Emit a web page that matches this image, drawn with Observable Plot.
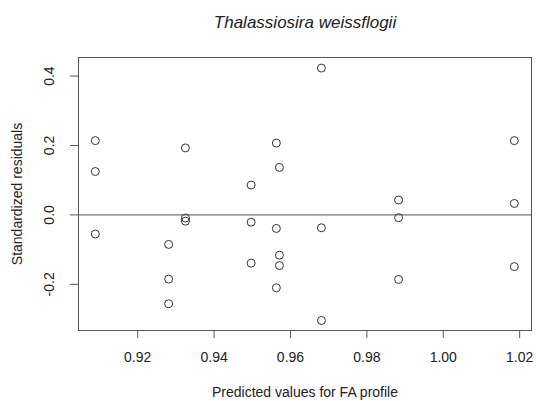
<!DOCTYPE html>
<html>
<head>
<meta charset="utf-8">
<script src="https://cdn.jsdelivr.net/npm/d3@7"></script>
<script src="https://cdn.jsdelivr.net/npm/@observablehq/plot@0.6"></script>
<style>
  html, body { margin: 0; padding: 0; background: #fff; }
</style>
</head>
<body>
<div id="chart"></div>
<script>
const title = "Thalassiosira weissflogii";
const xLabel = "Predicted values for FA profile";
const yLabel = "Standardized residuals";

const predicted = [
  0.9089, 0.9089, 0.9089,
  0.9281, 0.9281, 0.9281,
  0.9325, 0.9325, 0.9325,
  0.9497, 0.9497, 0.9497,
  0.9563, 0.9563, 0.9563,
  0.9571, 0.9571, 0.9571,
  0.9681, 0.9681, 0.9681,
  0.9883, 0.9883, 0.9883,
  1.0186, 1.0186, 1.0186
];
const residuals = [
  0.214, 0.125, -0.055,
  -0.085, -0.185, -0.256,
  0.193, -0.009, -0.018,
  0.086, -0.021, -0.139,
  0.207, -0.039, -0.210,
  0.137, -0.116, -0.146,
  0.423, -0.037, -0.304,
  0.043, -0.008, -0.186,
  0.214, 0.033, -0.149
];
const xTicks = [0.92, 0.94, 0.96, 0.98, 1.00, 1.02];
const yTicks = [-0.2, 0.0, 0.2, 0.4];

const data = predicted.map((p, i) => ({p, r: residuals[i]}));
const ink = "#555";

const chart = Plot.plot({
  width: 536,
  height: 401,
  marginLeft: 78,
  marginRight: 5,
  marginTop: 57,
  marginBottom: 71,
  style: {fontFamily: "'Liberation Sans', Arial, Helvetica, sans-serif", fontSize: "14px", color: "#222", background: "#fff"},
  x: {domain: [0.9045, 1.0231]},
  y: {domain: [-0.333, 0.4535]},
  marks: [
    Plot.frame({stroke: ink, strokeWidth: 1}),
    Plot.ruleY([0], {stroke: ink, strokeWidth: 1}),
    Plot.dot(data, {x: "p", y: "r", r: 4, stroke: "#333", strokeWidth: 1, fill: "none"}),
    Plot.axisX({ticks: xTicks, tickFormat: d => d.toFixed(2), tickSize: 8, tickPadding: 14, stroke: ink,
      label: xLabel, labelAnchor: "center", labelArrow: "none", labelOffset: 66}),
    Plot.axisY({ticks: yTicks, tickFormat: d => d.toFixed(1), tickSize: 8, tickPadding: 17, tickRotate: -90, stroke: ink,
      label: yLabel, labelAnchor: "center", labelArrow: "none", labelOffset: 66}),
    Plot.text([title], {frameAnchor: "top", dy: -35, lineAnchor: "middle", fontSize: 17, fontStyle: "italic", fill: "#222"})
  ]
});
document.getElementById("chart").appendChild(chart);
</script>
</body>
</html>
